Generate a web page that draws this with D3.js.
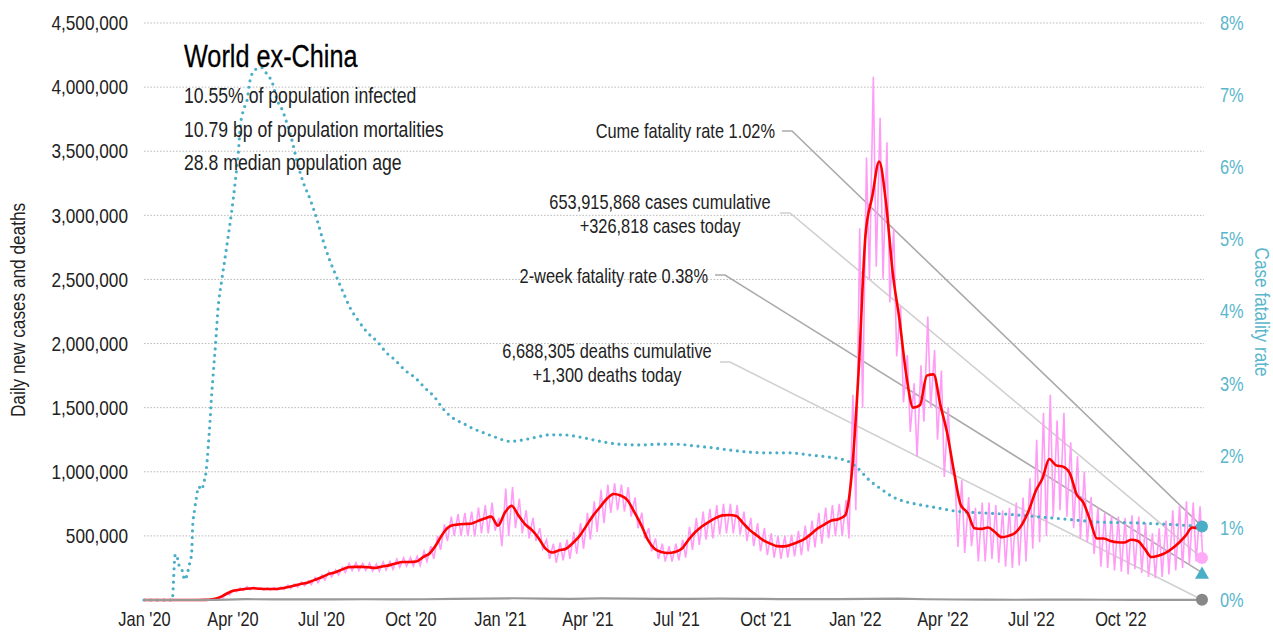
<!DOCTYPE html>
<html><head><meta charset="utf-8">
<script src="https://cdn.jsdelivr.net/npm/d3@7"></script>
<style>
html,body{margin:0;padding:0;background:#fff;}
svg{display:block;font-family:"Liberation Sans",Arial,sans-serif;}
</style></head>
<body><svg id="c" width="1273" height="639"></svg>
<script>
// ---------- DATA ----------
const weekStart = "2020-01-01";
const lastDate = "2022-12-24";
// 7-day average new cases (thousands), one value per week from weekStart
const avgCases = [0,0,0,0,0,0,0,0,0,1,6,18,45,70,80,88,92,88,86,86,
 90,100,112,125,135,155,175,200,215,235,255,258,258,255,250,262,270,285,296,296,
 300,335,365,437,525,577,588,593,595,615,635,650,580,680,735,660,590,545,480,400,
 370,388,400,445,500,580,660,725,790,827,815,780,690,590,470,400,375,367,375,400,
 470,530,575,610,640,660,663,655,600,545,505,465,440,420,418,430,450,475,515,560,
 590,620,630,660,1000,1800,2850,3150,3420,3100,2550,2180,1750,1500,1520,1750,1760,1520,1300,1000,
 740,680,560,555,565,530,490,500,525,590,700,850,950,1100,1050,1040,990,825,760,620,
 480,480,460,450,448,470,460,400,335,345,365,400,445,500,565,560];
const avgCasesLast = 565;
// daily new cases, weekly high and low (thousands)
const dailyHigh = [0,0,0,0,0,0,0,0,0,3,10,25,55,80,95,105,100,95,95,98,
 102,115,125,140,150,175,195,220,235,255,285,290,285,285,280,295,300,320,330,330,
 340,380,420,500,590,650,670,680,690,720,740,760,640,870,880,790,700,640,560,470,
 440,450,470,530,600,680,770,860,900,910,900,880,800,680,560,480,440,420,440,470,
 570,640,690,710,740,750,750,740,690,640,600,560,520,500,500,510,540,580,620,680,
 720,740,750,780,1600,2900,3450,4080,3760,3570,2900,2290,1910,1690,1830,2210,1950,1790,1500,960,
 936,803,720,760,760,740,700,720,760,800,950,1250,1460,1600,1400,1460,1230,1120,1000,803,
 720,680,660,650,640,660,650,600,520,560,620,700,740,770,760,730];
const dailyLow = [0,0,0,0,0,0,0,0,0,1,5,15,40,65,75,80,85,80,78,78,
 82,90,100,112,120,135,155,180,195,215,230,230,230,225,225,235,240,255,265,265,
 270,300,320,390,460,500,500,500,495,520,520,540,420,500,560,520,480,460,400,320,
 290,310,320,360,400,470,530,600,680,700,690,650,560,480,380,320,300,300,310,330,
 390,430,470,480,510,520,520,510,460,420,380,350,330,320,330,340,350,380,410,440,
 480,500,500,480,700,1500,2500,2600,2500,2320,1900,1540,1310,1120,1390,1500,1250,960,1000,413,
 367,420,300,300,320,290,260,250,270,300,400,450,500,650,700,650,560,480,450,360,
 260,250,230,220,200,240,210,180,170,180,200,230,250,280,300,290];
const casesToday = 326818;
// daily deaths (thousands), mid-month
const deathMonths = ["2020-01-15","2020-02-15","2020-03-15","2020-04-15","2020-05-15","2020-06-15","2020-07-15","2020-08-15","2020-09-15","2020-10-15","2020-11-15","2020-12-15",
 "2021-01-15","2021-02-15","2021-03-15","2021-04-15","2021-05-15","2021-06-15","2021-07-15","2021-08-15","2021-09-15","2021-10-15","2021-11-15","2021-12-15",
 "2022-01-15","2022-02-15","2022-03-15","2022-04-15","2022-05-15","2022-06-15","2022-07-15","2022-08-15","2022-09-15","2022-10-15","2022-11-15","2022-12-15"];
const deaths = [0,0.01,1.5,6.5,4.2,4.5,5.4,5.9,5.3,6.0,9.5,11.5,
 13.5,10.5,9.0,12.0,11.5,9.0,8.3,10.0,9.0,7.3,7.0,6.8,
 8.5,10.0,6.0,4.0,2.3,1.8,2.3,2.3,1.8,1.6,1.5,1.5];
const deathsToday = 1300;
// cumulative case fatality rate (%)
const cfrDates = ["2020-01-01","2020-01-30","2020-02-02","2020-02-04","2020-02-05","2020-02-09","2020-02-12","2020-02-15","2020-02-17","2020-02-19",
 "2020-02-20","2020-02-22","2020-02-24","2020-02-26","2020-03-01","2020-03-02","2020-03-04","2020-03-06","2020-03-07","2020-03-09",
 "2020-03-10","2020-03-12","2020-03-15","2020-03-17","2020-03-21","2020-03-24","2020-03-27","2020-03-31","2020-04-04","2020-04-07",
 "2020-04-09","2020-04-13","2020-04-16","2020-04-19","2020-04-24","2020-05-01","2020-05-06","2020-05-12","2020-05-17","2020-05-22",
 "2020-05-27","2020-06-01","2020-06-06","2020-06-12","2020-06-20","2020-06-27","2020-07-03","2020-07-10","2020-07-17","2020-07-24",
 "2020-07-31","2020-08-08","2020-08-17","2020-08-28","2020-09-07","2020-09-15","2020-09-25","2020-10-06","2020-10-16","2020-10-26",
 "2020-11-03","2020-11-14","2020-11-24","2020-12-04","2020-12-15","2020-12-29","2021-01-11","2021-01-25","2021-02-08","2021-02-21",
 "2021-03-07","2021-03-24","2021-04-14","2021-05-04","2021-05-25","2021-06-14","2021-07-02","2021-07-18","2021-08-08","2021-08-25",
 "2021-09-15","2021-10-06","2021-10-26","2021-11-16","2021-12-06","2021-12-24","2022-01-03","2022-01-16","2022-01-29","2022-02-09",
 "2022-02-23","2022-03-09","2022-03-26","2022-04-16","2022-05-09","2022-06-06","2022-07-03","2022-08-07","2022-09-10","2022-10-14",
 "2022-11-18","2022-12-24"];
const cfrValues = [0,0,0.62,0.63,0.52,0.42,0.28,0.39,0.51,0.65,
 1.01,1.25,1.43,1.57,1.53,1.62,1.70,1.94,2.12,2.50,
 2.73,3.10,3.63,4.02,4.44,4.71,4.99,5.37,5.82,6.20,
 6.56,6.82,6.93,7.20,7.35,7.38,7.30,7.17,6.93,6.80,
 6.61,6.38,6.10,5.82,5.55,5.27,4.99,4.71,4.48,4.26,
 4.05,3.88,3.72,3.58,3.42,3.33,3.19,3.08,2.94,2.81,
 2.66,2.52,2.45,2.38,2.32,2.25,2.20,2.22,2.26,2.29,
 2.29,2.26,2.20,2.16,2.15,2.16,2.16,2.14,2.11,2.08,
 2.05,2.04,2.04,2.01,1.98,1.93,1.84,1.66,1.53,1.43,
 1.36,1.32,1.28,1.23,1.21,1.19,1.16,1.12,1.08,1.07,
 1.05,1.02];
const cumeCFR = 1.02, twoWeekCFR = 0.38;
const leftTicks = [500000,1000000,1500000,2000000,2500000,3000000,3500000,4000000,4500000];
const rightTicks = [0,1,2,3,4,5,6,7,8];
const title = "World ex-China";
const subtitles = ["10.55% of population infected","10.79 bp of population mortalities","28.8 median population age"];
const notes = [
 {lines:["Cume fatality rate 1.02%"], target:"cume"},
 {lines:["653,915,868 cases cumulative","+326,818 cases today"], target:"cases"},
 {lines:["2-week fatality rate 0.38%"], target:"twoweek"},
 {lines:["6,688,305 deaths cumulative","+1,300 deaths today"], target:"deaths"}
];

// ---------- CHART ----------
const NARROW = 0.82; // horizontal squeeze to mimic a narrow face
const parse = d3.utcParse("%Y-%m-%d");
const t0 = parse(weekStart), t1 = parse(lastDate);
const svg = d3.select("#c");
const x = d3.scaleUtc().domain([t0, t1]).range([144, 1202]);
const yL = d3.scaleLinear().domain([0, 4500000]).range([600, 23]);
const yR = d3.scaleLinear().domain([0, 8]).range([600, 23]);

const TEAL = "#4aaec7", TEAL_T = "#5ab6cc", PINK = "#ff9cf6", RED = "#ff0000", GRAY = "#999";

function ntext(parent, px, py, str, size, anchor, fill, rot) {
 return parent.append("text")
  .attr("transform", `translate(${px},${py})${rot ? ` rotate(${rot})` : ""} scale(${NARROW},1)`)
  .attr("text-anchor", anchor || "start").attr("font-size", size).attr("fill", fill || "#222").text(str);
}
function squeezeAxisText(g) {
 g.selectAll("text").each(function () {
  const t = d3.select(this);
  const ox = +t.attr("x") || 0;
  t.attr("x", ox / NARROW).attr("transform", `scale(${NARROW},1)`);
 });
}

// grid
svg.append("g").selectAll("line").data(leftTicks).join("line")
 .attr("x1", 144).attr("x2", 1204).attr("y1", d => yL(d)).attr("y2", d => yL(d))
 .attr("stroke", "#bdbdbd").attr("stroke-width", 1).attr("stroke-dasharray", "1.6,1.6");

// left axis
const axL = svg.append("g").attr("transform", "translate(144,0)")
 .call(d3.axisLeft(yL).tickValues(leftTicks).tickFormat(d3.format(",")).tickSize(0).tickPadding(16));
axL.select(".domain").remove();
axL.selectAll("text").attr("font-size", 21).attr("fill", "#222").attr("font-family", null);
squeezeAxisText(axL);

// right axis
const axR = svg.append("g").attr("transform", "translate(1220,0)")
 .call(d3.axisRight(yR).tickValues(rightTicks).tickFormat(d => d + "%").tickSize(0).tickPadding(0));
axR.select(".domain").remove();
axR.selectAll("text").attr("font-size", 20).attr("fill", TEAL_T).attr("font-family", null);
squeezeAxisText(axR);

// x axis
const axX = svg.append("g").attr("transform", "translate(0,612)")
 .call(d3.axisBottom(x).ticks(d3.utcMonth.every(3)).tickFormat(d3.utcFormat("%b '%y")).tickSize(0).tickPadding(0));
axX.select(".domain").remove();
axX.selectAll("text").attr("font-size", 20).attr("fill", "#222").attr("font-family", null).attr("dy", "0.71em");
squeezeAxisText(axX);

// axis titles
ntext(svg, 25, 310, "Daily new cases and deaths", 21, "middle", "#222", -90);
ntext(svg, 1255, 312, "Case fatality rate", 21, "middle", TEAL_T, 90);

// leader lines + annotations
const endX = x(t1);
const targets = {
 cume: [endX, yR(cumeCFR)], cases: [endX, yL(casesToday)],
 twoweek: [endX, yR(twoWeekCFR)], deaths: [endX, yL(deathsToday)]
};
const notePos = [
 {anchor:"end", tx:775, ty:[138], lx:782, ly:131, col:"#aaaaaa"},
 {anchor:"middle", tx:660, ty:[209,233], lx:780, ly:213, col:"#d0d0d0"},
 {anchor:"end", tx:708, ty:[283], lx:715, ly:275, col:"#aaaaaa"},
 {anchor:"middle", tx:607, ty:[358,382], lx:720, ly:362, col:"#d0d0d0"}
];
const gLead = svg.append("g");
notes.forEach((n, i) => {
 const p = notePos[i], tg = targets[n.target];
 gLead.append("path").attr("d", d3.line()([[p.lx, p.ly], [p.lx + 10, p.ly], tg]))
  .attr("fill", "none").attr("stroke", p.col).attr("stroke-width", 1.6);
});

// daily cases (pink)
const dailyPts = [];
dailyHigh.forEach((v, i) => {
 dailyPts.push([d3.utcDay.offset(t0, 7 * i + 1), v * 1000]);
 dailyPts.push([d3.utcDay.offset(t0, 7 * i + 4), dailyLow[i] * 1000]);
});
dailyPts.push([t1, casesToday]);
svg.append("path").datum(dailyPts).attr("fill", "none").attr("stroke", PINK).attr("stroke-width", 1.6)
 .attr("d", d3.line().x(d => x(d[0])).y(d => yL(d[1])));

// CFR (teal dotted)
const cfrPts = cfrDates.map((d, i) => [parse(d), cfrValues[i]]);
svg.append("path").datum(cfrPts).attr("fill", "none").attr("stroke", TEAL).attr("stroke-width", 3.2)
 .attr("stroke-linecap", "round").attr("stroke-dasharray", "0,6.6")
 .attr("d", d3.line().curve(d3.curveMonotoneX).x(d => x(d[0])).y(d => yR(d[1])));

// 7-day avg (red)
const avgPts = avgCases.map((v, i) => [d3.utcDay.offset(t0, 7 * i), v * 1000]);
avgPts.push([t1, avgCasesLast * 1000]);
svg.append("path").datum(avgPts).attr("fill", "none").attr("stroke", RED).attr("stroke-width", 2.6)
 .attr("stroke-linejoin", "round")
 .attr("d", d3.line().curve(d3.curveMonotoneX).x(d => x(d[0])).y(d => yL(d[1])));

// deaths (gray)
const deathPts = [[t0, 0]].concat(deathMonths.map((d, i) => [parse(d), deaths[i] * 1000])).concat([[t1, deathsToday]]);
svg.append("path").datum(deathPts).attr("fill", "none").attr("stroke", GRAY).attr("stroke-width", 2.2)
 .attr("d", d3.line().x(d => x(d[0])).y(d => yL(d[1])));

// end markers
svg.append("circle").attr("cx", targets.cume[0]).attr("cy", targets.cume[1]).attr("r", 6).attr("fill", TEAL);
svg.append("circle").attr("cx", targets.cases[0]).attr("cy", targets.cases[1]).attr("r", 6).attr("fill", "#ffaaf7");
svg.append("path").attr("transform", `translate(${targets.twoweek[0]},${targets.twoweek[1] + 2})`)
 .attr("d", d3.symbol(d3.symbolTriangle, 85)()).attr("fill", TEAL);
svg.append("circle").attr("cx", targets.deaths[0]).attr("cy", targets.deaths[1]).attr("r", 6).attr("fill", "#888");

// note texts
notes.forEach((n, i) => {
 const p = notePos[i];
 n.lines.forEach((l, j) => ntext(svg, p.tx, p.ty[j], l, 20, p.anchor, "#222"));
});

// title block
ntext(svg, 184, 67, title, 30.8, "start", "#000").attr("stroke", "#000").attr("stroke-width", 0.3);
subtitles.forEach((s, i) => ntext(svg, 184, 103 + i * 33.5, s, 21.5, "start", "#222"));
</script></body></html>
